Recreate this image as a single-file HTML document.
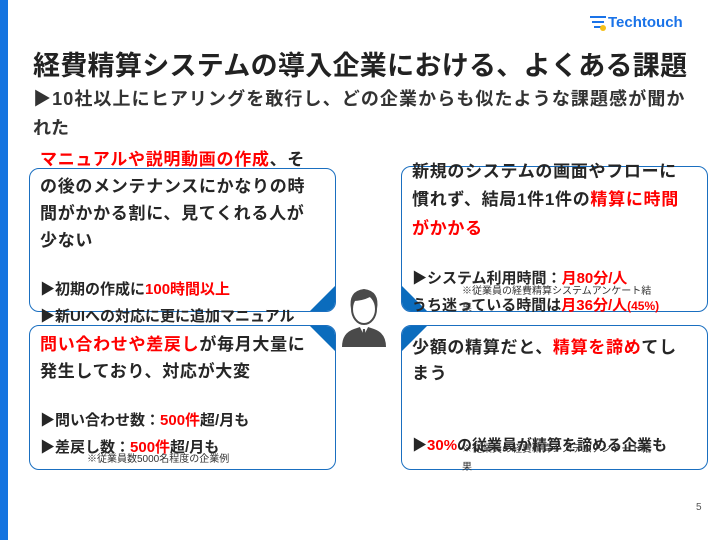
<!DOCTYPE html>
<html><head><meta charset="utf-8"><style>
*{margin:0;padding:0;box-sizing:border-box}
body{width:720px;height:540px;background:#fff;position:relative;overflow:hidden;font-family:"Liberation Sans","Noto Sans CJK JP",sans-serif;color:#262626}
.t{position:absolute;white-space:nowrap;font-size:17px;letter-spacing:0.7px;font-weight:bold;line-height:20px}
.r{color:#f00}
.n{position:absolute;white-space:nowrap;font-size:10px;color:#333;line-height:12px}
.box{position:absolute;border:1.5px solid #1a6fc0;border-radius:10px;overflow:hidden}
</style></head><body>
<div style="position:absolute;left:0;top:0;width:8px;height:540px;background:#1474e0"></div>
<div style="position:absolute;left:590px;top:16px;width:16px;height:2px;background:#1a73e8"></div>
<div style="position:absolute;left:592px;top:21px;width:12px;height:2px;background:#1a73e8"></div>
<div style="position:absolute;left:594px;top:26px;width:8px;height:2px;background:#1a73e8"></div>
<div style="position:absolute;left:600px;top:25px;width:6px;height:6px;border-radius:50%;background:#f5c018"></div>
<div style="position:absolute;left:608px;top:14px;font-size:15px;font-weight:bold;color:#1a73e8;white-space:nowrap">Techtouch</div>
<div style="position:absolute;left:33px;top:50px;font-size:27px;font-weight:bold;letter-spacing:0.3px;white-space:nowrap;color:#222;line-height:32px">経費精算システムの導入企業における、よくある課題</div>
<div style="position:absolute;left:33px;top:87px;font-size:18px;font-weight:bold;letter-spacing:1.1px;white-space:nowrap;color:#333;line-height:24px">▶10社以上にヒアリングを敢行し、どの企業からも似たような課題感が聞か</div>
<div style="position:absolute;left:33px;top:116px;font-size:18px;font-weight:bold;white-space:nowrap;color:#333;line-height:24px">れた</div>

<div class="box" style="left:29px;top:168px;width:307px;height:144px"><div style="position:absolute;right:0;bottom:0;border-left:25px solid transparent;border-bottom:25px solid #0b6cbd"></div></div>
<div class="box" style="left:29px;top:325px;width:307px;height:145px"><div style="position:absolute;right:0;top:0;border-left:25px solid transparent;border-top:25px solid #0b6cbd"></div></div>
<div class="box" style="left:401px;top:166px;width:307px;height:146px"><div style="position:absolute;left:0;bottom:0;border-right:25px solid transparent;border-bottom:25px solid #0b6cbd"></div></div>
<div class="box" style="left:401px;top:325px;width:307px;height:145px"><div style="position:absolute;left:0;top:0;border-right:25px solid transparent;border-top:25px solid #0b6cbd"></div></div>

<svg style="position:absolute;left:340px;top:285px" width="48" height="62" viewBox="0 0 48 62">
<path d="M2 62 Q2 48 14 44 L20 42 L24 50 L28 42 L34 44 Q46 48 46 62Z" fill="#4a4a4a"/>
<path d="M20 42 L24 50 L28 42 L26 40 L22 40Z" fill="#fff"/>
<path d="M23 44 L25 44 L26 56 L24 58 L22 56Z" fill="#4a4a4a"/>
<ellipse cx="24" cy="24" rx="12" ry="15" fill="#fff" stroke="#4a4a4a" stroke-width="2"/>
<path d="M11 24 Q8 6 24 4 Q40 6 37 24 Q35 14 30 12 Q22 16 13 16Z" fill="#4a4a4a"/>
</svg>

<div class="t" style="left:40px;top:150px"><span class="r">マニュアルや説明動画の作成</span>、そ</div>
<div class="t" style="left:40px;top:177px">の後のメンテナンスにかなりの時</div>
<div class="t" style="left:40px;top:204px">間がかかる割に、見てくれる人が</div>
<div class="t" style="left:40px;top:231px">少ない</div>
<div class="t" style="left:40px;top:280px;font-size:15px;letter-spacing:0">▶初期の作成に<span class="r">100時間以上</span></div>
<div class="t" style="left:40px;top:307px;font-size:15px;letter-spacing:0">▶新UIへの対応に更に追加マニュアル</div>
<div class="t" style="left:40px;top:335px"><span class="r">問い合わせや差戻し</span>が毎月大量に</div>
<div class="t" style="left:40px;top:362px">発生しており、対応が大変</div>
<div class="t" style="left:40px;top:411px;font-size:15px;letter-spacing:0">▶問い合わせ数：<span class="r">500件</span>超/月も</div>
<div class="t" style="left:40px;top:438px;font-size:15px;letter-spacing:0">▶差戻し数：<span class="r">500件</span>超/月も</div>
<div class="n" style="left:87px;top:454px">※従業員数5000名程度の企業例</div>
<div class="t" style="left:412px;top:162px">新規のシステムの画面やフローに</div>
<div class="t" style="left:412px;top:190px">慣れず、結局1件1件の<span class="r">精算に時間</span></div>
<div class="t" style="left:412px;top:219px"><span class="r">がかかる</span></div>
<div class="t" style="left:412px;top:269px;font-size:15px;letter-spacing:0">▶システム利用時間：<span class="r">月80分/人</span></div>
<div class="t" style="left:412px;top:296px;font-size:15px;letter-spacing:0">うち迷っている時間は<span class="r">月36分/人<span style="font-size:12px">(45%)</span></span></div>
<div class="n" style="left:462px;top:286px">※従業員の経費精算システムアンケート結</div>
<div class="n" style="left:462px;top:303px">果</div>
<div class="t" style="left:412px;top:338px">少額の精算だと、<span class="r">精算を諦め</span>てし</div>
<div class="t" style="left:412px;top:364px">まう</div>
<div class="t" style="left:412px;top:436px;font-size:15px;letter-spacing:0">▶<span class="r">30%</span>の従業員が精算を諦める企業も</div>
<div class="n" style="left:462px;top:444px">※従業員の経費精算システムアンケート結</div>
<div class="n" style="left:462px;top:462px">果</div>

<div style="position:absolute;left:696px;top:502px;font-size:10px;color:#555">5</div>
</body></html>
